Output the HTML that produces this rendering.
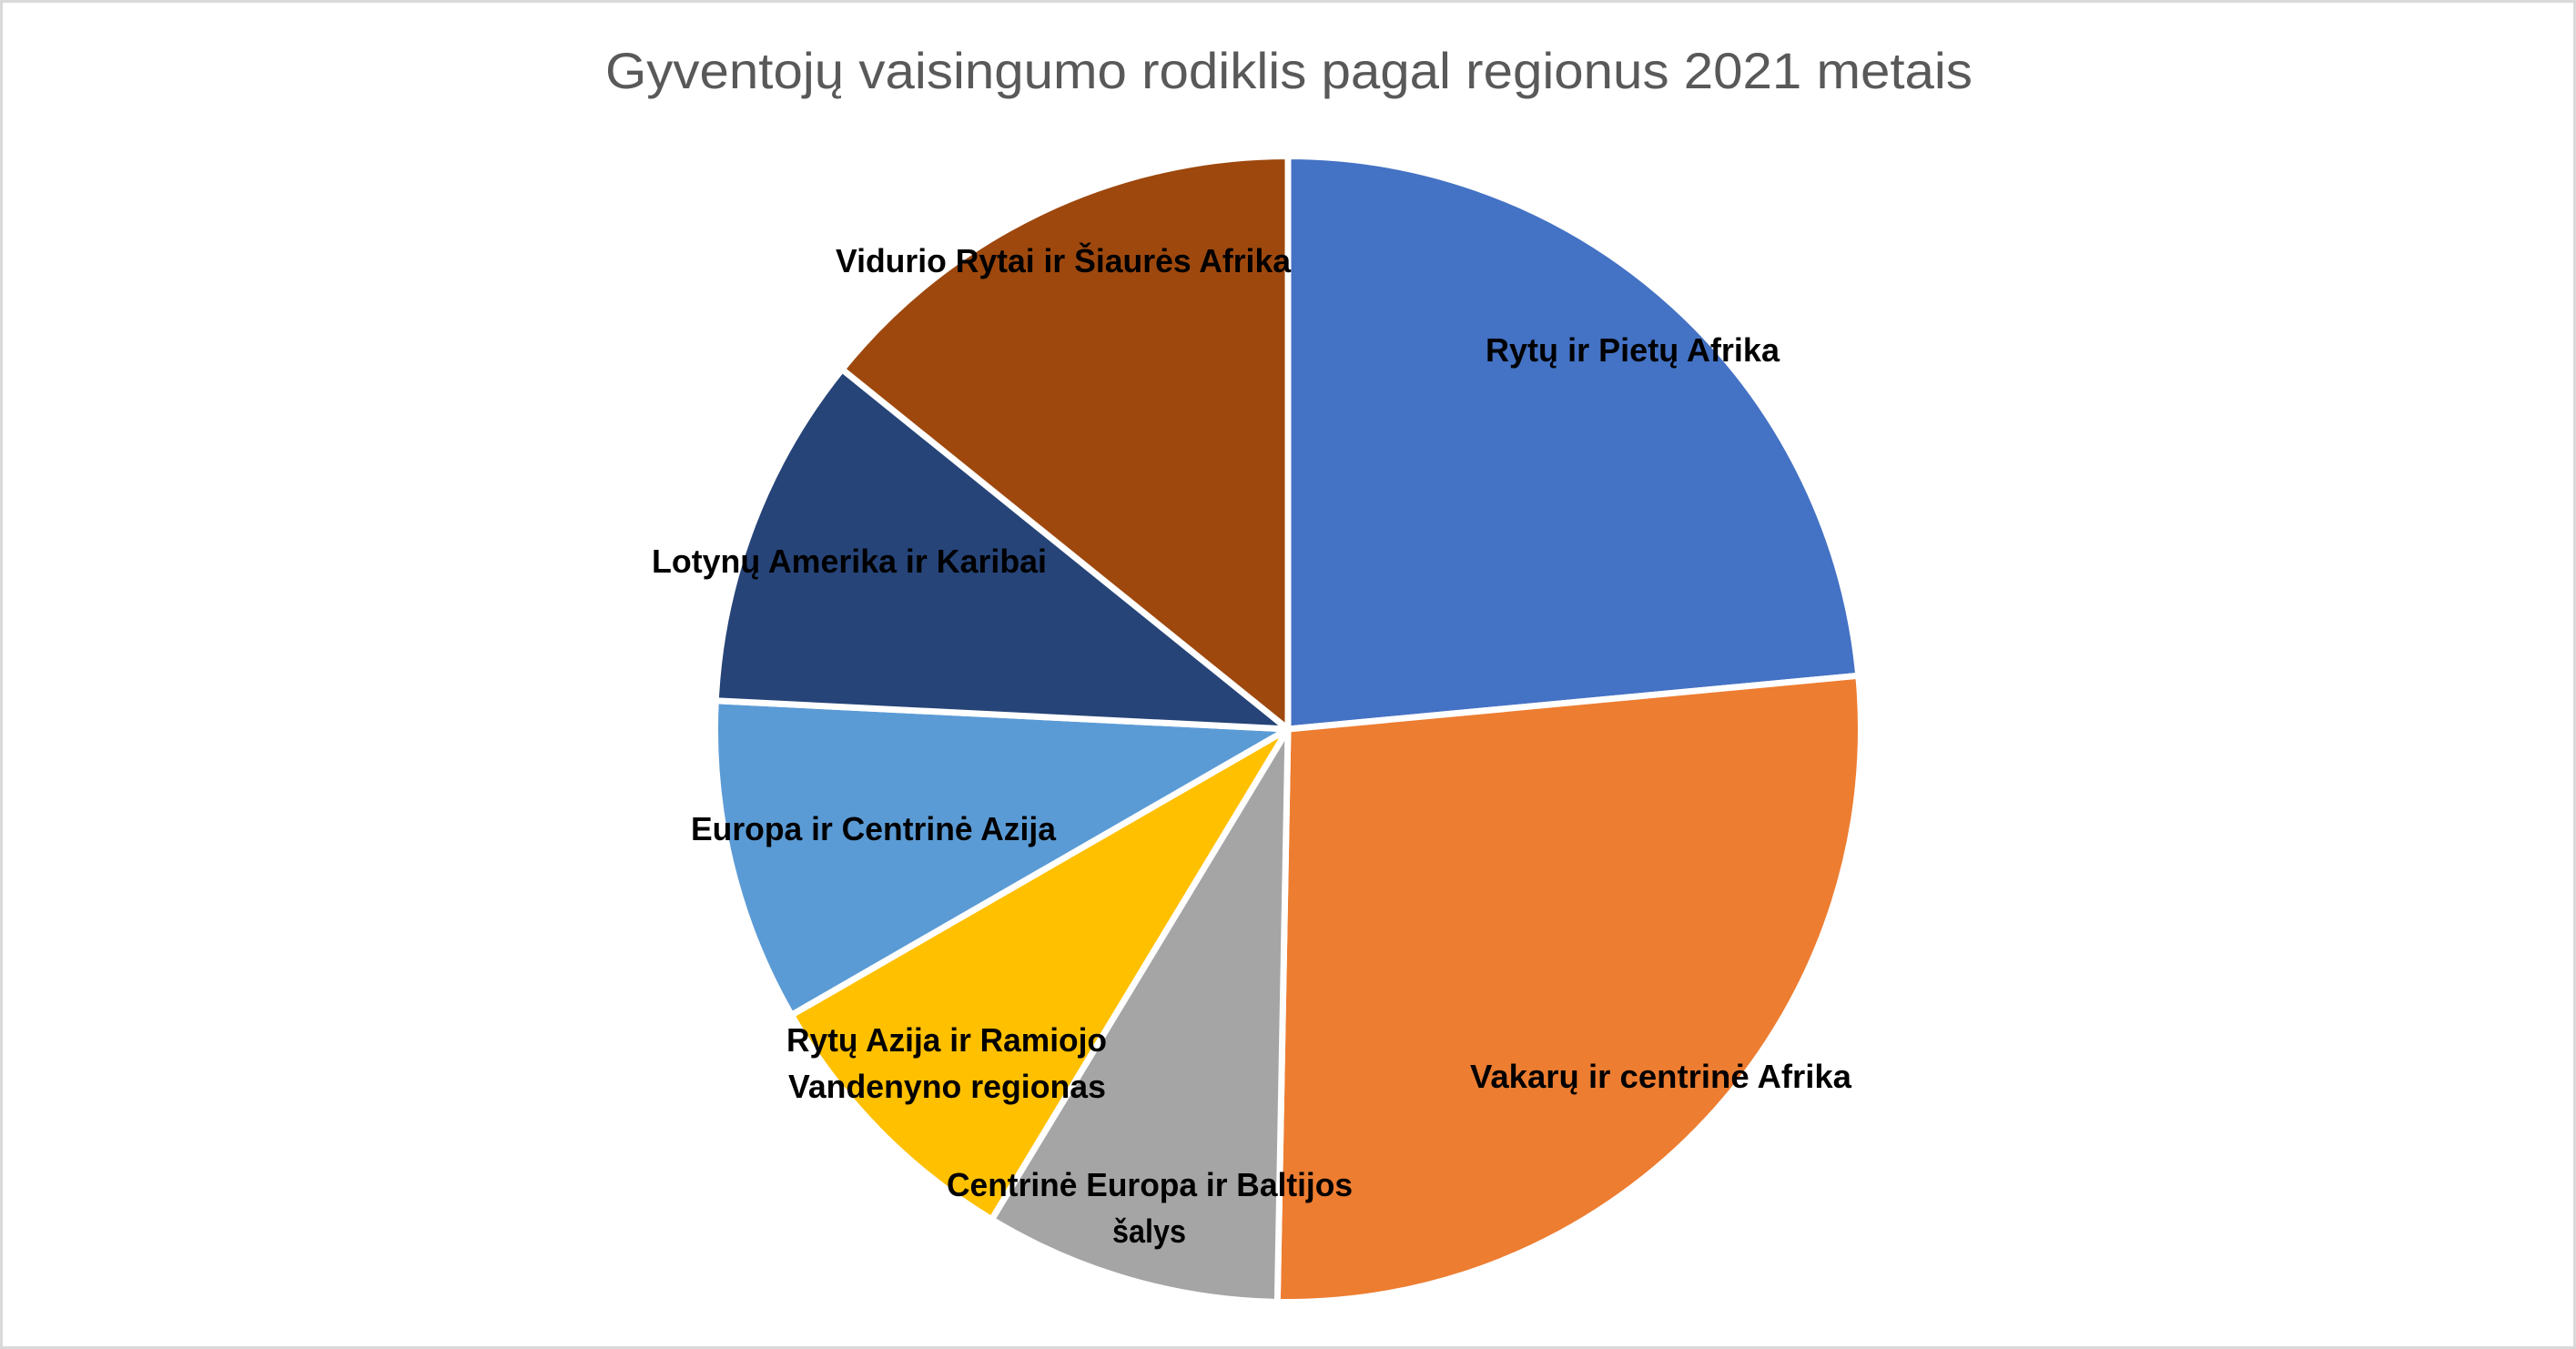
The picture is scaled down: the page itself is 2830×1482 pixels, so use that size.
<!DOCTYPE html>
<html lang="lt">
<head>
<meta charset="utf-8">
<title>Gyventojų vaisingumo rodiklis pagal regionus 2021 metais</title>
<style>
html,body{margin:0;padding:0;background:#fff;width:2830px;height:1482px;overflow:hidden}
svg{display:block}
.lbl{font-family:"Liberation Sans",sans-serif;font-weight:700;font-size:36px;fill:#000}
.ttl{font-family:"Liberation Sans",sans-serif;font-size:56px;fill:#595959}
</style>
</head>
<body>
<svg id="chart" xmlns="http://www.w3.org/2000/svg" width="2830" height="1482" viewBox="0 0 2830 1482">
  <rect x="1.5" y="1.5" width="2827" height="1479" fill="#fff" stroke="#d9d9d9" stroke-width="3"/>
  <text class="ttl" x="665" y="97" textLength="1502" lengthAdjust="spacingAndGlyphs">Gyventojų vaisingumo rodiklis pagal regionus 2021 metais</text>
  <g id="slices"></g>
  <g>
    <text class="lbl" x="1632" y="397" textLength="323" lengthAdjust="spacingAndGlyphs">Rytų ir Pietų Afrika</text>
    <text class="lbl" x="1615" y="1195" textLength="419" lengthAdjust="spacingAndGlyphs">Vakarų ir centrinė Afrika</text>
    <text class="lbl" x="1040" y="1314" textLength="446" lengthAdjust="spacingAndGlyphs">Centrinė Europa ir Baltijos</text>
    <text class="lbl" x="1222" y="1365" textLength="81" lengthAdjust="spacingAndGlyphs">šalys</text>
    <text class="lbl" x="864" y="1155" textLength="352" lengthAdjust="spacingAndGlyphs">Rytų Azija ir Ramiojo</text>
    <text class="lbl" x="866" y="1206" textLength="349" lengthAdjust="spacingAndGlyphs">Vandenyno regionas</text>
    <text class="lbl" x="759" y="923" textLength="401" lengthAdjust="spacingAndGlyphs">Europa ir Centrinė Azija</text>
    <text class="lbl" x="716" y="629" textLength="434" lengthAdjust="spacingAndGlyphs">Lotynų Amerika ir Karibai</text>
    <text class="lbl" x="918" y="299" textLength="500" lengthAdjust="spacingAndGlyphs">Vidurio Rytai ir Šiaurės Afrika</text>
  </g>
</svg>
<script>
const categories = ["Rytų ir Pietų Afrika", "Vakarų ir centrinė Afrika", "Centrinė Europa ir Baltijos šalys", "Rytų Azija ir Ramiojo Vandenyno regionas", "Europa ir Centrinė Azija", "Lotynų Amerika ir Karibai", "Vidurio Rytai ir Šiaurės Afrika"];
const fertilityRates = [4.39, 5.0, 1.56, 1.5, 1.7, 1.87, 2.65];
const sliceColors = ["#4472C4", "#ED7D31", "#A5A5A5", "#FFC000", "#5B9BD5", "#264478", "#9E480E"];

const cx = 1415, cy = 801, radius = 629.5;
const total = fertilityRates.reduce(function (a, b) { return a + b; }, 0);
function angleOf(v) { return v / total * Math.PI * 2; }
function px(a) { return cx + radius * Math.sin(a); }
function py(a) { return cy - radius * Math.cos(a); }

const group = document.getElementById('slices');
let start = 0;
fertilityRates.forEach(function (v, i) {
  const end = start + angleOf(v);
  const large = end - start > Math.PI ? 1 : 0;
  const el = document.createElementNS('http://www.w3.org/2000/svg', 'path');
  el.setAttribute('d', 'M' + cx + ' ' + cy + ' L' + px(start) + ' ' + py(start) +
    ' A' + radius + ' ' + radius + ' 0 ' + large + ' 1 ' + px(end) + ' ' + py(end) + ' Z');
  el.setAttribute('fill', sliceColors[i]);
  el.setAttribute('stroke', '#ffffff');
  el.setAttribute('stroke-width', '7');
  el.setAttribute('stroke-linejoin', 'round');
  
  
  const tip = document.createElementNS('http://www.w3.org/2000/svg', 'title');
  tip.textContent = categories[i] + ': ' + v;
  el.appendChild(tip);
  group.appendChild(el);
  start = end;
});
</script>
</body>
</html>
